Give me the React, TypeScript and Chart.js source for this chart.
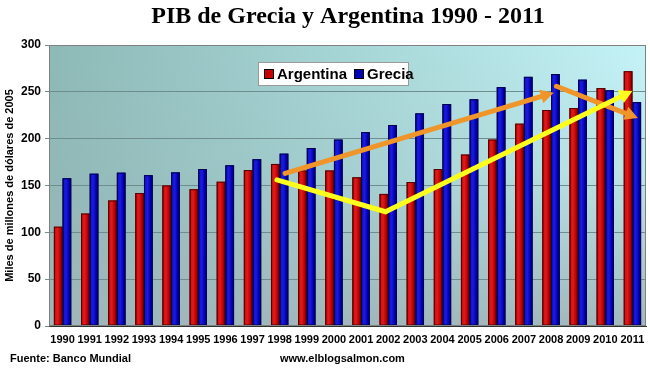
import React, { useEffect, useRef } from "react";
import { Chart, registerables } from "chart.js";

Chart.register(...registerables);

const years = ["1990","1991","1992","1993","1994","1995","1996","1997","1998","1999","2000","2001","2002","2003","2004","2005","2006","2007","2008","2009","2010","2011"];
const argentina = [106,120,134,142,150,146,154,166.5,173,166,166,158.7,141,153.7,167.6,183,199,216,230.6,232.7,254,272];
const grecia = [157.7,162.6,163.7,161,164,167.6,171.5,178,184,190,199,207,214.6,227,237,242,255,266,269,263,251.6,239];
const yTicks = [0,50,100,150,200,250,300];

// annotation arrows in data coordinates: [categoryIndexFrom, valueFrom, categoryIndexTo, valueTo]
const orangeArrows = [[8.2,163,18.1,249],[18.2,256,21.2,222]];
const yellowSegments = [[7.9,156,11.9,122]];
const yellowArrows = [[11.9,122,21.0,251]];

const titleText = "PIB de Grecia y Argentina 1990 - 2011";
const yAxisTitle = "Miles de millones de dólares de 2005";
const sourceText = "Fuente: Banco Mundial";
const siteText = "www.elblogsalmon.com";

const SANS = "'Liberation Sans', Arial, sans-serif";

const barShades: Record<string, string[]> = {
  Argentina: ["#6e0000", "#d81010", "#e01a1a", "#b80000", "#5a0000"],
  Grecia: ["#000060", "#1414d8", "#1a1ae0", "#0000b0", "#000050"],
};

function drawArrow(ctx: CanvasRenderingContext2D, x1: number, y1: number, x2: number, y2: number, color: string, head: boolean) {
  const ang = Math.atan2(y2 - y1, x2 - x1);
  const hl = 13, hw = 7;
  const ex = head ? x2 - Math.cos(ang) * (hl - 2) : x2;
  const ey = head ? y2 - Math.sin(ang) * (hl - 2) : y2;
  ctx.save();
  ctx.strokeStyle = color;
  ctx.fillStyle = color;
  ctx.lineWidth = 5;
  ctx.lineCap = "round";
  ctx.beginPath();
  ctx.moveTo(x1, y1);
  ctx.lineTo(ex, ey);
  ctx.stroke();
  if (head) {
    ctx.beginPath();
    ctx.moveTo(x2, y2);
    ctx.lineTo(x2 - Math.cos(ang) * hl - Math.sin(ang) * hw, y2 - Math.sin(ang) * hl + Math.cos(ang) * hw);
    ctx.lineTo(x2 - Math.cos(ang) * hl + Math.sin(ang) * hw, y2 - Math.sin(ang) * hl - Math.cos(ang) * hw);
    ctx.closePath();
    ctx.fill();
  }
  ctx.restore();
}

const decorPlugin = {
  id: "decor",
  beforeDraw(chart: any) {
    const { ctx, chartArea: a } = chart;
    ctx.save();
    ctx.fillStyle = "#ffffff";
    ctx.fillRect(0, 0, chart.width, chart.height);
    const g = ctx.createLinearGradient(a.left, a.top, a.right, a.top);
    g.addColorStop(0, "#8db9b6");
    g.addColorStop(0.5, "#a6d6d6");
    g.addColorStop(1, "#c4f3f7");
    ctx.fillStyle = g;
    ctx.fillRect(a.left, a.top, a.right - a.left, a.bottom - a.top);
    const v = ctx.createLinearGradient(0, a.top, 0, a.bottom);
    v.addColorStop(0, "rgba(160,180,185,0)");
    v.addColorStop(0.45, "rgba(160,180,185,0.2)");
    v.addColorStop(1, "rgba(160,182,186,0.95)");
    ctx.fillStyle = v;
    ctx.fillRect(a.left, a.top, a.right - a.left, a.bottom - a.top);
    ctx.restore();
  },
  afterDatasetsDraw(chart: any) {
    const { ctx, chartArea: a } = chart;
    const xs = chart.scales.x, ys = chart.scales.y;
    // cylinder-like shading of bars
    chart.data.datasets.forEach((ds: any, di: number) => {
      const shades = barShades[ds.label];
      chart.getDatasetMeta(di).data.forEach((bar: any) => {
        const { x, y, base, width } = bar.getProps(["x", "y", "base", "width"], true);
        const l = x - width / 2, r = x + width / 2;
        const g = ctx.createLinearGradient(l, 0, r, 0);
        g.addColorStop(0, shades[0]);
        g.addColorStop(0.2, shades[1]);
        g.addColorStop(0.4, shades[2]);
        g.addColorStop(0.75, shades[3]);
        g.addColorStop(1, shades[4]);
        ctx.save();
        ctx.fillStyle = g;
        ctx.fillRect(l, y, width, base - y);
        ctx.strokeStyle = shades[4];
        ctx.lineWidth = 1;
        ctx.strokeRect(l + 0.5, y + 0.5, width - 1, base - y - 1);
        ctx.restore();
      });
    });
    const px = (i: number) => xs.getPixelForValue(0) + (xs.getPixelForValue(1) - xs.getPixelForValue(0)) * i;
    ctx.save();
    ctx.strokeStyle = "#808080";
    ctx.lineWidth = 1;
    ctx.strokeRect(a.left + 0.5, a.top + 0.5, a.right - a.left - 1, a.bottom - a.top - 1);
    ctx.restore();
    for (const s of orangeArrows) drawArrow(ctx, px(s[0]), ys.getPixelForValue(s[1]), px(s[2]), ys.getPixelForValue(s[3]), "#f0952a", true);
    for (const s of yellowSegments) drawArrow(ctx, px(s[0]), ys.getPixelForValue(s[1]), px(s[2]), ys.getPixelForValue(s[3]), "#ffff1e", false);
    for (const s of yellowArrows) drawArrow(ctx, px(s[0]), ys.getPixelForValue(s[1]), px(s[2]), ys.getPixelForValue(s[3]), "#ffff1e", true);

    // legend box
    ctx.save();
    const lx = 258, ly = 62, lw = 151, lh = 24;
    ctx.fillStyle = "#ffffff";
    ctx.fillRect(lx, ly, lw, lh);
    ctx.strokeStyle = "#9a9a9a";
    ctx.lineWidth = 1;
    ctx.strokeRect(lx + 0.5, ly + 0.5, lw - 1, lh - 1);
    ctx.font = `bold 15px ${SANS}`;
    ctx.textBaseline = "middle";
    let cx = lx + 6;
    chart.data.datasets.forEach((ds: any) => {
      ctx.fillStyle = ds.backgroundColor;
      ctx.fillRect(cx, ly + 7, 10, 10);
      ctx.strokeStyle = "#000000";
      ctx.strokeRect(cx + 0.5, ly + 7.5, 9, 9);
      ctx.fillStyle = "#000000";
      ctx.fillText(ds.label, cx + 13, ly + lh / 2 + 1);
      cx += 13 + ctx.measureText(ds.label).width + 7;
    });
    ctx.restore();
  },
  afterDraw(chart: any) {
    const { ctx } = chart;
    ctx.save();
    ctx.fillStyle = "#000000";
    ctx.font = `bold 24px 'Liberation Serif', 'DejaVu Serif', serif`;
    ctx.textAlign = "center";
    ctx.textBaseline = "middle";
    ctx.fillText(titleText, 348, 17);
    ctx.font = `bold 11px ${SANS}`;
    ctx.textAlign = "left";
    ctx.fillText(sourceText, 10, 359);
    ctx.fillText(siteText, 280, 359);
    ctx.restore();
  },
};

export default function App() {
  const ref = useRef<HTMLCanvasElement>(null);
  useEffect(() => {
    document.body.style.margin = "0";
    const chart = new Chart(ref.current!, {
      type: "bar",
      data: {
        labels: years,
        datasets: [
          { label: "Argentina", data: argentina, backgroundColor: "#c80000", borderColor: "#3a0000", borderWidth: 1, categoryPercentage: 0.64, barPercentage: 1 },
          { label: "Grecia", data: grecia, backgroundColor: "#0000b4", borderColor: "#00003a", borderWidth: 1, categoryPercentage: 0.64, barPercentage: 1 },
        ],
      },
      options: {
        responsive: false,
        animation: false,
        devicePixelRatio: 1,
        layout: { padding: { top: 45, right: 4, bottom: 22, left: 3 } },
        plugins: { legend: { display: false }, title: { display: false }, tooltip: { enabled: false } },
        scales: {
          x: {
            grid: { display: false, drawTicks: true, tickLength: 4, color: "#555555", offset: true },
            border: { color: "#333333" },
            ticks: { color: "#000000", font: { family: SANS, size: 11, weight: "bold" }, maxRotation: 0, autoSkip: false, padding: 3 },
            afterFit(s: any) { s.height = 23; },
          },
          y: {
            min: 0,
            max: 300,
            afterBuildTicks(s: any) { s.ticks = yTicks.map((v) => ({ value: v })); },
            grid: { color: "#6f8d8f", lineWidth: 1, drawTicks: true, tickLength: 4 },
            border: { color: "#555555" },
            ticks: { color: "#000000", font: { family: SANS, size: 12, weight: "bold" }, padding: 4 },
            title: { display: true, text: yAxisTitle, color: "#000000", font: { family: SANS, size: 11, weight: "bold" }, padding: { top: 0, bottom: 0 } },
            afterFit(s: any) { s.width = 46; },
          },
        },
      },
      plugins: [decorPlugin],
    });
    return () => chart.destroy();
  }, []);
  return (
    <div style={{ width: 650, height: 371 }}>
      <canvas ref={ref} width={650} height={371} style={{ display: "block" }} />
    </div>
  );
}
